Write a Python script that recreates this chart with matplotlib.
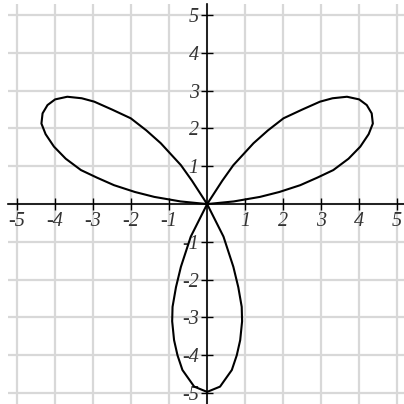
import numpy as np
import matplotlib.pyplot as plt

# points, one closed loop per petal
right_x = [0, 0.4, 0.69, 1.22, 1.6, 2.01, 2.5, 2.97, 3.3, 3.68, 4.0, 4.2, 4.33, 4.36,
           4.25, 4.03, 3.72, 3.32, 2.9, 2.45, 1.9, 1.39, 0.7, 0]
right_y = [0, 0.62, 1.03, 1.61, 1.95, 2.27, 2.5, 2.71, 2.8, 2.84, 2.77, 2.62, 2.4, 2.13,
           1.85, 1.52, 1.2, 0.9, 0.7, 0.5, 0.32, 0.19, 0.07, 0]
left_x = [0, -0.4, -0.69, -1.22, -1.6, -2.01, -2.5, -2.97, -3.3, -3.68, -4.0, -4.2, -4.33, -4.36,
          -4.25, -4.03, -3.72, -3.32, -2.9, -2.45, -1.9, -1.39, -0.7, 0]
left_y = [0, 0.62, 1.03, 1.61, 1.95, 2.27, 2.5, 2.71, 2.8, 2.84, 2.77, 2.62, 2.4, 2.13,
          1.85, 1.52, 1.2, 0.9, 0.7, 0.5, 0.32, 0.19, 0.07, 0]
bottom_x = [0, 0.2, 0.43, 0.69, 0.82, 0.91, 0.92, 0.87, 0.78, 0.65, 0.34, 0,
            -0.34, -0.65, -0.78, -0.87, -0.92, -0.91, -0.82, -0.69, -0.43, -0.2, 0]
bottom_y = [0, -0.4, -0.86, -1.66, -2.2, -2.72, -3.1, -3.6, -4.0, -4.39, -4.83, -4.97,
            -4.83, -4.39, -4.0, -3.6, -3.1, -2.72, -2.2, -1.66, -0.86, -0.4, 0]

ticks = [-5, -4, -3, -2, -1, 1, 2, 3, 4, 5]
tick_labels = ['-5', '-4', '-3', '-2', '-1', '1', '2', '3', '4', '5']

fig = plt.figure(figsize=(4.04, 4.04), dpi=100)
ax = fig.add_axes([0, 0, 1, 1])
ax.set_xlim(-5.45, 5.18)
ax.set_ylim(-5.29, 5.40)

grid = np.arange(-5, 6)
ax.vlines(grid, -5.29, 5.29, color='#d8d8d8', lw=1.6, zorder=0)
ax.hlines(grid, -5.24, 5.18, color='#d8d8d8', lw=1.6, zorder=0)

for s in ['top', 'right']:
    ax.spines[s].set_visible(False)
ax.spines['left'].set_position(('data', 0))
ax.spines['bottom'].set_position(('data', 0))
ax.spines['left'].set_bounds(-5.29, 5.29)
ax.spines['bottom'].set_bounds(-5.24, 5.18)
for s in ['left', 'bottom']:
    ax.spines[s].set_linewidth(1.2)

ax.set_xticks(ticks)
ax.set_yticks(ticks)
ax.set_xticklabels(tick_labels)
ax.set_yticklabels(tick_labels)
ax.tick_params(direction='inout', length=8, width=1.0, labelsize=14.5,
               labelcolor='#333333', pad=2)
for lab in ax.get_xticklabels() + ax.get_yticklabels():
    lab.set_fontfamily('Liberation Serif')
    lab.set_fontstyle('italic')

for xs, ys in [(right_x, right_y), (left_x, left_y), (bottom_x, bottom_y)]:
    ax.plot(xs, ys, color='black', lw=1.5, zorder=3)

fig.savefig('out.png', dpi=100)
